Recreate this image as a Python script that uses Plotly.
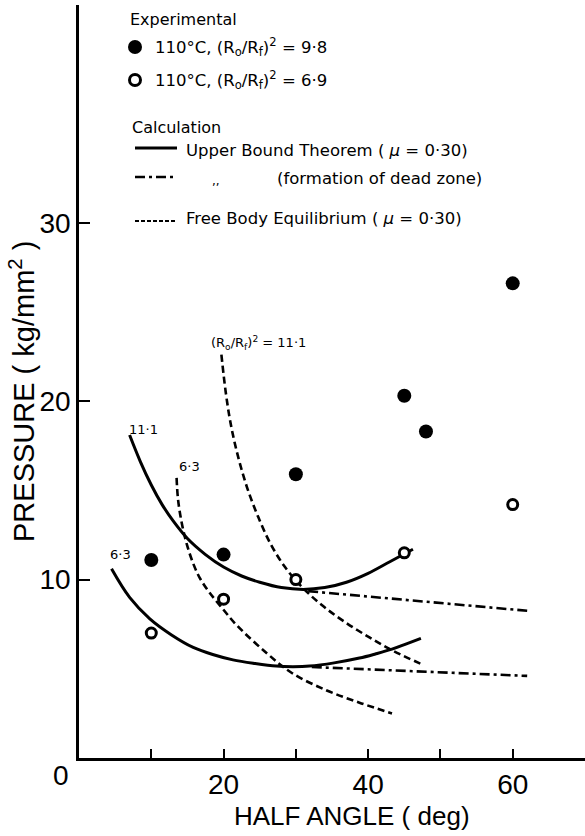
import plotly.graph_objects as go

# ---------------- data ----------------
# Experimental, 110 C, (Ro/Rf)^2 = 9.8  (filled)
exp98_x = [10, 20, 30, 45, 48, 60]
exp98_y = [11.1, 11.4, 15.9, 20.3, 18.3, 26.6]
# Experimental, 110 C, (Ro/Rf)^2 = 6.9  (open)
exp69_x = [10, 20, 30, 45, 60]
exp69_y = [7.0, 8.9, 10.0, 11.5, 14.2]

# Upper bound theorem, (Ro/Rf)^2 = 11.1
ub111_x = [7.0, 8.5, 10.0, 11.5, 13.0, 15.0, 17.5, 20.0, 22.5, 25.0, 28.0, 31.0, 34.0, 37.0, 40.0, 43.0, 46.2]
ub111_y = [18.1, 16.6, 15.3, 14.2, 13.3, 12.3, 11.4, 10.7, 10.2, 9.85, 9.55, 9.45, 9.55, 9.85, 10.35, 11.0, 11.7]
# Upper bound theorem, (Ro/Rf)^2 = 6.3
ub63_x = [4.5, 7.0, 9.8, 12.8, 15.8, 18.5, 21.3, 24.3, 27.3, 29.6, 31.9, 35.3, 38.8, 41.0, 43.3, 45.3, 47.3]
ub63_y = [10.6, 9.0, 7.8, 6.9, 6.2, 5.8, 5.5, 5.3, 5.15, 5.12, 5.15, 5.33, 5.6, 5.83, 6.1, 6.4, 6.7]

# Upper bound, formation of dead zone
dz111_x = [31.7, 62.0]
dz111_y = [9.35, 8.25]
dz63_x = [32.2, 62.0]
dz63_y = [5.1, 4.6]

# Free body equilibrium, (Ro/Rf)^2 = 11.1
fb111_x = [19.7, 20.3, 21.0, 22.0, 23.3, 24.8, 26.5, 28.5, 30.8, 33.5, 36.5, 40.0, 43.5, 47.7]
fb111_y = [22.6, 20.5, 18.7, 16.9, 15.1, 13.5, 12.0, 10.7, 9.6, 8.6, 7.7, 6.8, 6.0, 5.2]
# Free body equilibrium, (Ro/Rf)^2 = 6.3
fb63_x = [13.5, 13.7, 14.2, 14.9, 15.8, 16.7, 18.0, 19.6, 21.8, 25.9, 29.5, 34.2, 38.8, 43.3]
fb63_y = [15.7, 14.5, 13.2, 12.0, 10.9, 10.1, 9.3, 8.5, 7.45, 5.9, 4.75, 3.8, 3.1, 2.5]

x_tickvals = [10, 20, 30, 40, 50, 60]
x_ticktext = ["", "20", "", "40", "", "60"]
y_tickvals = [10, 20, 30]
y_ticktext = ["10", "20", "30"]

# ---------------- layout geometry ----------------
W, H = 585, 836
ML, MR, MT, MB = 79, 0, 5, 78
XR = [0, 70]
YR = [0, 42.2]
PW = W - ML - MR
PH = H - MT - MB

def px(xp):
    return (xp - ML) / PW

def py(yp):
    return (H - MB - yp) / PH

FONT = "Liberation Sans"
LFONT = "DejaVu Sans"
BLK = "black"

fig = go.Figure()

solid = dict(color=BLK, width=3)
dashed = dict(color=BLK, width=2.6, dash="7px,4px")
dashdot = dict(color=BLK, width=2.6, dash="10px,4px,3px,4px")

fig.add_trace(go.Scatter(x=ub111_x, y=ub111_y, mode="lines", line=dict(solid, shape="spline"), showlegend=False))
fig.add_trace(go.Scatter(x=ub63_x, y=ub63_y, mode="lines", line=dict(solid, shape="spline"), showlegend=False))
fig.add_trace(go.Scatter(x=dz111_x, y=dz111_y, mode="lines", line=dashdot, showlegend=False))
fig.add_trace(go.Scatter(x=dz63_x, y=dz63_y, mode="lines", line=dashdot, showlegend=False))
fig.add_trace(go.Scatter(x=fb111_x, y=fb111_y, mode="lines", line=dict(dashed, shape="spline"), showlegend=False))
fig.add_trace(go.Scatter(x=fb63_x, y=fb63_y, mode="lines", line=dict(dashed, shape="spline"), showlegend=False))

fig.add_trace(go.Scatter(x=exp98_x, y=exp98_y, mode="markers",
                         marker=dict(size=14, color=BLK, line=dict(width=0)), showlegend=False))
fig.add_trace(go.Scatter(x=exp69_x, y=exp69_y, mode="markers",
                         marker=dict(size=10, color="white", line=dict(width=3, color=BLK)), showlegend=False))

ann = []
def text(x, y, s, size, anchor="left", angle=0, family=LFONT):
    ann.append(dict(x=px(x), y=py(y), xref="paper", yref="paper", text=s, showarrow=False,
                    xanchor=anchor, yanchor="middle", textangle=angle,
                    font=dict(family=family, size=size, color=BLK)))

# legend
text(128, 20, "Experimental", 16)
text(153, 47, "110°C, (R<sub>o</sub>/R<sub>f</sub>)<sup>2</sup> = 9·8", 16.5)
text(153, 80, "110°C, (R<sub>o</sub>/R<sub>f</sub>)<sup>2</sup> = 6·9", 16.5)
text(130, 128, "Calculation", 16)
text(184, 150, "Upper Bound Theorem ( <i>μ</i> = 0·30)", 16.5)
text(210, 181, ",,", 12)
text(275, 178, "(formation of dead zone)", 16.5)
text(184, 219, "Free Body Equilibrium ( <i>μ</i> = 0·30)", 16.5)

# curve labels
text(143, 430, "11·1", 13, anchor="center")
text(120, 554, "6·3", 13, anchor="center")
text(189, 466, "6·3", 13, anchor="center")
text(258, 343, "(R<sub>o</sub>/R<sub>f</sub>)<sup>2</sup> = 11·1", 13, anchor="center")

# origin label and axis titles
text(61, 775, "0", 28, anchor="center", family=FONT)
text(352, 816, "HALF ANGLE ( deg)", 26, anchor="center", family=FONT)
text(22, 392, "PRESSURE ( kg/mm<sup>2</sup> )", 29, anchor="center", angle=-90, family=FONT)

shapes = []
# legend markers
shapes.append(dict(type="circle", xref="paper", yref="paper", xsizemode="pixel", ysizemode="pixel",
                   xanchor=px(135), yanchor=py(47), x0=-7, x1=7, y0=-7, y1=7,
                   fillcolor=BLK, line=dict(color=BLK, width=0)))
shapes.append(dict(type="circle", xref="paper", yref="paper", xsizemode="pixel", ysizemode="pixel",
                   xanchor=px(135), yanchor=py(80), x0=-5.5, x1=5.5, y0=-5.5, y1=5.5,
                   fillcolor="white", line=dict(color=BLK, width=3)))
# legend line samples
shapes.append(dict(type="line", xref="paper", yref="paper", x0=px(135), x1=px(177), y0=py(148), y1=py(148),
                   line=dict(color=BLK, width=3)))
shapes.append(dict(type="line", xref="paper", yref="paper", x0=px(135), x1=px(177), y0=py(177), y1=py(177),
                   line=dict(color=BLK, width=2.6, dash="10px,4px,3px,4px")))
shapes.append(dict(type="line", xref="paper", yref="paper", x0=px(135), x1=px(177), y0=py(221), y1=py(221),
                   line=dict(color=BLK, width=2.2, dash="4px,2px")))

fig.update_layout(
    width=W, height=H,
    margin=dict(l=ML, r=MR, t=MT, b=MB, pad=0),
    paper_bgcolor="white", plot_bgcolor="white",
    showlegend=False,
    annotations=ann, shapes=shapes,
    xaxis=dict(range=XR, showgrid=False, zeroline=False, showline=True, linecolor=BLK, linewidth=2.5,
               ticks="inside", ticklen=9, tickwidth=2, tickcolor=BLK,
               tickvals=x_tickvals, ticktext=x_ticktext,
               tickfont=dict(family=FONT, size=28, color=BLK)),
    yaxis=dict(range=YR, showgrid=False, zeroline=False, showline=True, linecolor=BLK, linewidth=2.5,
               ticks="inside", ticklen=11, tickwidth=2, tickcolor=BLK,
               tickvals=y_tickvals, ticktext=y_ticktext,
               tickfont=dict(family=FONT, size=28, color=BLK)),
)

fig.write_html("out.html")
